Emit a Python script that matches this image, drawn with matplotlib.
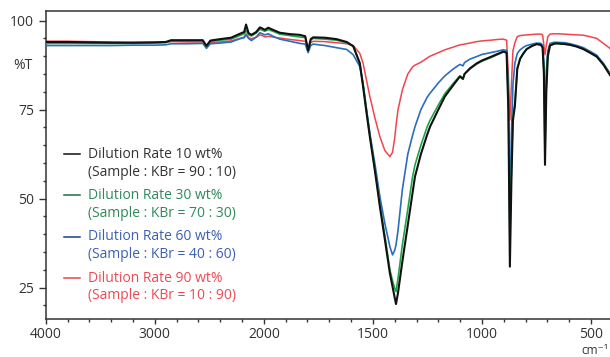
import numpy as np
import matplotlib.pyplot as plt
from matplotlib.ticker import FixedLocator

plt.rcParams['font.family'] = ['Open Sans', 'DejaVu Sans']

# wavenumber (cm-1) and %T for each dilution rate
wavenumber = [4000, 3800, 3600, 3400, 3200, 3000, 2900, 2850, 2700, 2560, 2526, 2490, 2400, 2300,
              2220, 2180, 2163, 2140, 2113, 2070, 2036, 2015, 1995, 1980, 1950, 1927, 1880, 1835,
              1810, 1797, 1785, 1774, 1720, 1667, 1620, 1590, 1560, 1545, 1530, 1514, 1490, 1468,
              1445, 1422, 1410, 1400, 1394, 1385, 1365, 1340, 1318, 1307, 1280, 1251, 1238, 1200,
              1170, 1130, 1101, 1087, 1080, 1055, 1024, 1000, 960, 930, 902, 887, 879, 872, 865,
              858, 849, 838, 825, 810, 795, 770, 749, 730, 722, 716, 711, 705, 698, 688, 670, 658,
              620, 596, 565, 535, 505, 474, 443, 413]

rate_10 = [94.0, 94.0, 93.9, 93.8, 93.8, 93.9, 94.0, 94.5, 94.5, 94.5, 92.9, 94.4, 94.8, 95.2,
           96.3, 96.8, 98.9, 96.5, 96.0, 96.8, 98.1, 97.8, 97.4, 98.0, 97.2, 96.6, 96.2, 96.0,
           95.6, 91.6, 94.8, 95.3, 95.2, 94.8, 94.0, 92.8, 88.0, 81.5, 74.5, 67.4, 57.5, 47.8,
           38.5, 29.0, 25.3, 22.2, 20.4, 23.5, 32.3, 42.6, 51.7, 56.2, 62.5, 68.0, 70.2, 75.0,
           78.7, 82.0, 84.3, 83.6, 85.0, 86.6, 88.0, 88.8, 89.8, 90.6, 91.3, 91.0, 75.0, 30.9, 55.0,
           72.0, 76.0, 86.5, 89.3, 90.8, 92.0, 92.9, 93.4, 93.2, 92.5, 85.0, 59.5, 80.0, 90.0, 93.0, 93.5, 93.6,
           93.4, 93.2, 92.7, 92.0, 91.0, 89.9, 87.6, 84.7]

rate_30 = [93.6, 93.6, 93.6, 93.6, 93.6, 93.7, 93.8, 94.3, 94.3, 94.3, 92.8, 94.2, 94.5, 94.8,
           95.8, 96.3, 97.3, 96.0, 95.7, 96.5, 97.6, 97.3, 97.0, 97.5, 96.8, 96.2, 95.8, 95.4,
           95.2, 91.6, 94.6, 95.0, 94.8, 94.5, 93.8, 92.8, 88.2, 81.8, 75.0, 67.8, 58.0, 48.5,
           39.5, 30.0, 27.0, 24.8, 23.9, 27.5, 37.0, 47.0, 56.2, 59.5, 65.0, 70.2, 72.0, 76.3,
           79.5, 82.5, 84.5, 83.8, 85.0, 86.4, 87.8, 88.6, 89.6, 90.4, 91.2, 91.0, 77.0, 38.0, 58.0,
           73.0, 77.0, 86.5, 89.3, 90.8, 92.0, 92.9, 93.4, 93.2, 92.5, 86.0, 62.0, 82.0, 90.5, 93.0, 93.5, 93.6,
           93.4, 93.2, 92.7, 92.0, 91.0, 89.9, 87.8, 85.0]

rate_60 = [93.0, 93.0, 93.0, 93.0, 93.1, 93.1, 93.2, 93.5, 93.5, 93.6, 92.2, 93.5, 93.7, 94.0,
           94.9, 95.2, 96.0, 95.0, 94.4, 95.4, 96.6, 96.3, 96.0, 96.3, 95.4, 94.8, 94.2, 93.6,
           93.4, 91.0, 93.0, 93.4, 93.0, 92.4, 91.9, 90.4, 87.1, 82.4, 75.5, 68.4, 59.5, 50.6,
           43.0, 36.5, 34.2, 35.5, 37.0, 41.0, 52.5, 62.5, 67.8, 70.2, 75.0, 78.5, 79.6, 82.5,
           84.5, 86.5, 87.7, 87.3, 88.2, 89.2, 89.9, 90.5, 91.0, 91.4, 91.8, 91.6, 80.0, 47.0, 68.0,
           82.0, 88.0, 90.8, 91.8, 92.5, 93.0, 93.4, 93.7, 93.6, 93.0, 88.0, 70.0, 86.0, 91.5, 93.6, 93.9, 93.9,
           93.8, 93.5, 93.0, 92.4, 91.4, 90.3, 88.0, 85.2]

rate_90 = [94.2, 94.2, 94.1, 94.0, 93.9, 93.9, 93.9, 94.1, 94.0, 94.0, 93.0, 93.9, 94.0, 94.3,
           95.0, 95.4, 96.3, 95.2, 94.9, 95.3, 96.0, 95.8, 95.4, 95.6, 95.3, 95.1, 94.7, 94.4,
           94.2, 92.0, 93.8, 94.2, 94.1, 93.8, 93.5, 93.0, 90.8, 88.0, 83.5, 78.7, 72.5, 67.4,
           63.5, 61.8, 63.0, 67.0, 70.5, 74.9, 80.5, 85.0, 87.0, 87.5, 88.3, 89.5, 90.0, 91.0,
           91.8, 92.6, 93.2, 93.3, 93.4, 93.7, 94.1, 94.3, 94.5, 94.7, 94.8, 94.5, 85.0, 72.1, 82.0,
           91.5, 93.8, 95.5, 95.8, 95.9, 96.0, 96.1, 96.2, 96.2, 96.0, 93.0, 90.4, 93.0, 95.5, 96.2, 96.3, 96.3,
           96.2, 96.1, 96.0, 95.9, 95.5, 95.0, 93.6, 92.2]

legend_titles = ["Dilution Rate 10 wt%", "Dilution Rate 30 wt%",
                 "Dilution Rate 60 wt%", "Dilution Rate 90 wt%"]
legend_ratios = ["(Sample : KBr = 90 : 10)", "(Sample : KBr = 70 : 30)",
                 "(Sample : KBr = 40 : 60)", "(Sample : KBr = 10 : 90)"]

series = [rate_10, rate_30, rate_60, rate_90]
line_colors = ["#111111", "#1fa34a", "#2a6ebd", "#f0454f"]
key_colors = ["#111111", "#236b43", "#1f3f8c", "#e8454e"]
text_colors = ["#333333", "#2e8a5a", "#3d60b3", "#ea4a53"]
widths = [1.5, 1.2, 1.2, 1.1]


# spectrometer style axis: 2x expansion below 2000 cm-1
def fwd(w):
    w = np.asarray(w, dtype=float)
    return np.where(w >= 2000, w, 2 * w - 2000)


def inv(t):
    t = np.asarray(t, dtype=float)
    return np.where(t >= 2000, t, (t + 2000) / 2)


fig = plt.figure(figsize=(6.1, 3.57), dpi=100)
ax = fig.add_axes([0.0749, 0.1064, 0.9251, 0.8628])
ax.set_xscale('function', functions=(fwd, inv))

# draw red first so black ends up on top
for i in [3, 2, 1, 0]:
    ax.plot(wavenumber, series[i], color=line_colors[i], lw=widths[i], zorder=2 + (3 - i))

ax.set_xlim(4000, 413)
ax.set_ylim(16.2, 102.7)

ax.xaxis.set_major_locator(FixedLocator([4000, 3000, 2000, 1500, 1000, 500]))
ax.xaxis.set_minor_locator(FixedLocator(list(range(3800, 2000, -200)) + list(range(1900, 400, -100))))
ax.yaxis.set_major_locator(FixedLocator([25, 50, 75, 100]))
ax.yaxis.set_minor_locator(FixedLocator(list(range(20, 100, 5))))

spine_col = "#333333"
ax.spines["right"].set_visible(False)
for side in ["left", "top", "bottom"]:
    ax.spines[side].set_color(spine_col)
    ax.spines[side].set_linewidth(1.1)

ax.tick_params(axis='y', which='major', length=5, width=1, color=spine_col, pad=3.5,
               labelsize=10, labelcolor="#333333")
ax.tick_params(axis='y', which='minor', length=2.4, width=1, color=spine_col)
ax.tick_params(axis='x', which='major', length=3.8, width=1, color=spine_col, pad=2.2,
               labelsize=10, labelcolor="#333333")
ax.tick_params(axis='x', which='minor', length=2, width=1, color=spine_col)

ax.text(-0.024, 87.5, "%T", transform=ax.get_yaxis_transform(), ha='right', va='center',
        fontsize=10, color="#333333")
fig.text(608 / 610, 0.0, "cm\u207b\u00b9", ha='right', va='bottom', fontsize=8.5,
         color="#333333", family=['Open Sans', 'DejaVu Sans'])

# manual legend: key line aligned with first text line
for i in range(4):
    y0 = 0.535 - i * 0.134
    ax.plot([0.0324, 0.0609], [y0, y0], transform=ax.transAxes, color=key_colors[i], lw=1.1)
    ax.text(0.075, y0, legend_titles[i], transform=ax.transAxes, ha='left', va='center',
            fontsize=10, color=text_colors[i])
    ax.text(0.075, y0 - 0.058, legend_ratios[i], transform=ax.transAxes, ha='left',
            va='center', fontsize=10, color=text_colors[i])

fig.savefig("out.png", dpi=100)
